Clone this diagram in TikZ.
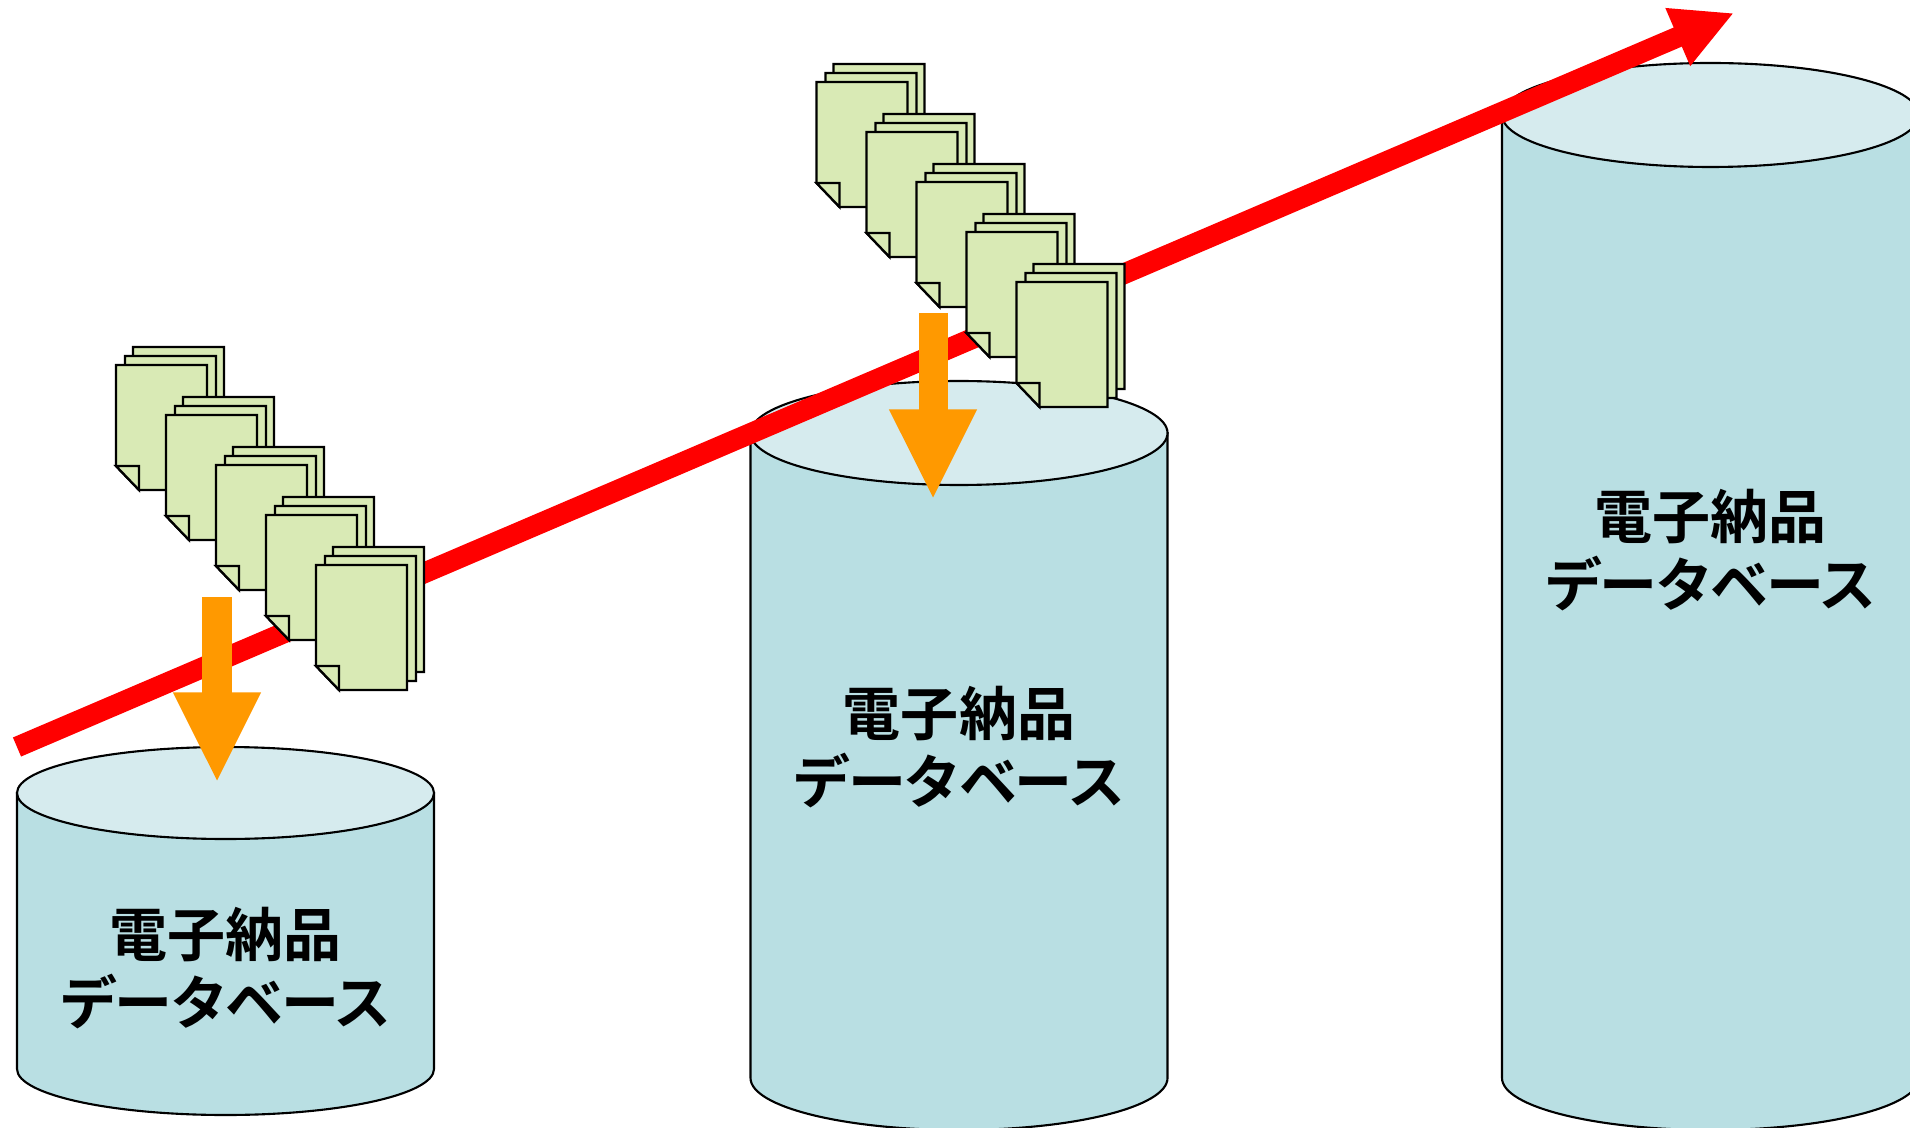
\documentclass[tikz,border=0pt]{standalone}
\usepackage{fontspec}
\setmainfont{Noto Sans CJK JP}[BoldFont={* Bold}]
\usetikzlibrary{arrows.meta}
\definecolor{dbside}{HTML}{B9DFE3}
\definecolor{dbtop}{HTML}{D6EBEE}
\definecolor{paper}{HTML}{D9EAB5}
\definecolor{downarrow}{HTML}{FF9900}
\tikzset{
	dbline/.style={draw=black, line width=0.6pt},
	paperline/.style={draw=black, fill=paper, line width=0.65pt},
	dblabel/.style={align=center, font=\fontsize{16.5}{19.3}\selectfont\bfseries, inner sep=0pt},
	growarrow/.style={draw=red, line width=5.9pt, -{Triangle[length=17.4pt, width=16.6pt, fill=red]}},
	loadarrow/.style={draw=downarrow, line width=8.25pt, -{Triangle[length=25.8pt, width=23pt, fill=downarrow]}}
}
\def\kanaline{\addfontfeature{LetterSpace=-4.5}}
% (name)(center x, top center y, bottom y)(label y)
\def\database(#1)(#2,#3,#4)(#5){
	\draw[dbline, fill=dbside] (#2-208.5, #3) -- (#2-208.5, #4) arc[start angle=180, end angle=0, x radius=208.5, y radius=\dbry] -- (#2+208.5, #3) -- cycle;
	\draw[dbline, fill=dbtop] (#2, #3) ellipse [x radius=208.5, y radius=\dbry];
	\node[dblabel] (#1) at (#2, #5) {電子納品\\{\kanaline データベース}};
}
\def\onesheet(#1,#2){
	\draw[paperline] (#1, #2) -- (#1+91, #2) -- (#1+91, #2+125) -- (#1+23, #2+125) -- (#1, #2+101) -- cycle;
	\draw[paperline] (#1, #2+101) -- (#1+23, #2+101) -- (#1+23, #2+125) -- cycle;
}
\def\sheets(#1,#2){
	\onesheet(#1+17, #2-18)
	\onesheet(#1+9, #2-9)
	\onesheet(#1, #2)
}
\def\sheetrun(#1,#2){
	\sheets(#1, #2)
	\sheets(#1+50, #2+50)
	\sheets(#1+100, #2+100)
	\sheets(#1+150, #2+150)
	\sheets(#1+200, #2+200)
}
\begin{document}
\begin{tikzpicture}[x=0.01cm, y=-0.01cm]
	%%%%% START %%%%%
	\useasboundingbox (0, 0) rectangle (1910, 1128);
	\clip (0, 0) rectangle (1910, 1128);
	\fill[white] (0, 0) rectangle (1910, 1128);

	\def\dbry{46}
	\database(dbsmall)(225.5, 793, 1069)(968)
	\def\dbry{52}
	\database(dbmedium)(959, 433, 1078)(747)
	\database(dblarge)(1710.5, 115, 1078)(550)

	\coordinate (growstart) at (17, 747);
	\coordinate (growend) at (1734, 13);
	\draw[growarrow] (growstart) -- (growend);

	\sheetrun(116, 365)
	\sheetrun(816.5, 82)

	\coordinate (loadstarta) at (217, 597);
	\coordinate (loadenda) at (217, 783);
	\draw[loadarrow] (loadstarta) -- (loadenda);
	\coordinate (loadstartb) at (933, 313);
	\coordinate (loadendb) at (933, 500);
	\draw[loadarrow] (loadstartb) -- (loadendb);
	%%%%% END %%%%%
\end{tikzpicture}
\end{document}
